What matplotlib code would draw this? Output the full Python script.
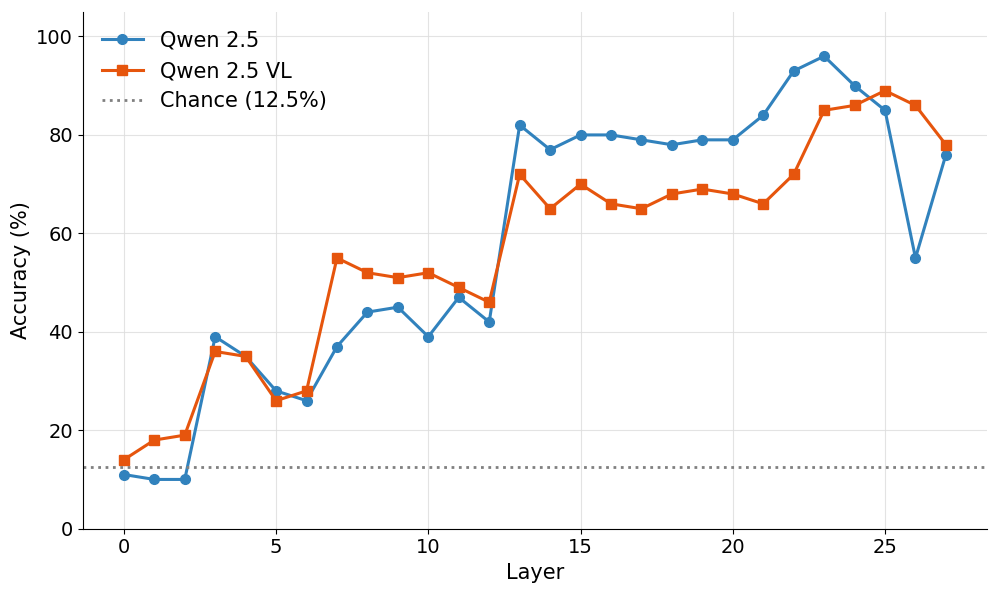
import matplotlib
matplotlib.use("Agg")
import matplotlib.pyplot as plt
import numpy as np

# --- data ---
layers = list(range(28))
qwen = [11, 10, 10, 39, 35, 28, 26, 37, 44, 45, 39, 47, 42, 82, 77, 80, 80, 79, 78, 79, 79, 84, 93, 96, 90, 85, 55, 76]
qwen_vl = [14, 18, 19, 36, 35, 26, 28, 55, 52, 51, 52, 49, 46, 72, 65, 70, 66, 65, 68, 69, 68, 66, 72, 85, 86, 89, 86, 78]
chance = 12.5

plt.rcParams['font.size'] = 14

fig, ax = plt.subplots(figsize=(9.97, 5.94), dpi=100)
ax.plot(layers, qwen, '-o', color='#3182bd', lw=2.2, ms=7, label='Qwen 2.5')
ax.plot(layers, qwen_vl, '-s', color='#e6550d', lw=2.2, ms=7, label='Qwen 2.5 VL')
ax.axhline(chance, color='gray', ls=':', lw=2, label='Chance (12.5%)')

ax.set_ylim(0, 105)
ax.set_xlabel('Layer', fontsize=15)
ax.set_ylabel('Accuracy (%)', fontsize=15)
ax.grid(True, color='#dddddd', lw=0.8, alpha=0.8)
ax.set_axisbelow(True)
ax.spines['top'].set_visible(False)
ax.spines['right'].set_visible(False)
ax.legend(loc='upper left', frameon=False, fontsize=15)

fig.subplots_adjust(left=0.083, right=0.99, top=0.98, bottom=0.11)
fig.savefig('out.png', dpi=100)
